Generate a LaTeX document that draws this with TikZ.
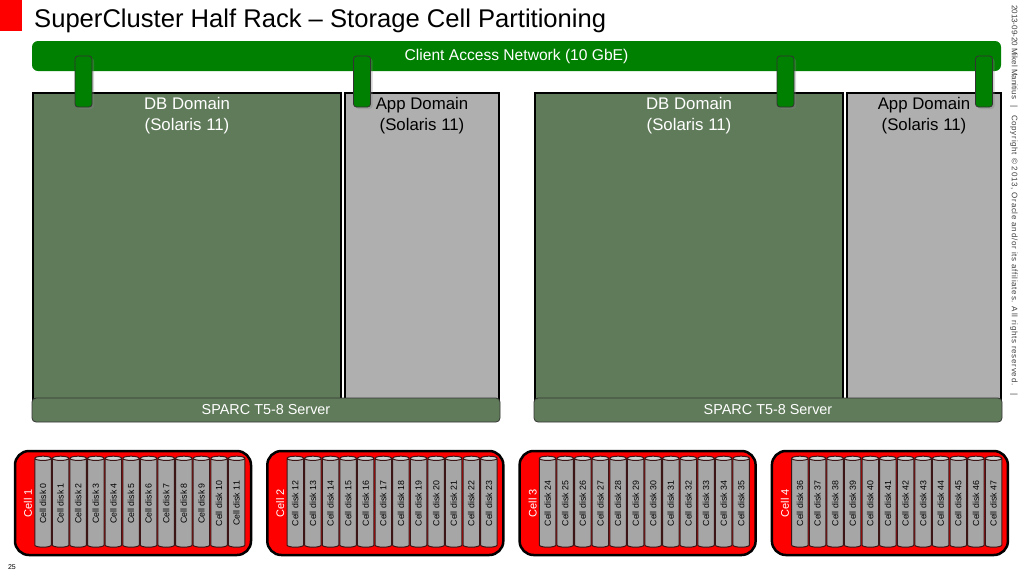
\documentclass[tikz,border=0pt]{standalone}
\usepackage{fontspec}
\setmainfont{Liberation Sans}
\usetikzlibrary{shapes.geometric,shadows}
\definecolor{netgreen}{RGB}{0,128,0}
\definecolor{domgreen}{RGB}{96,123,90}
\definecolor{appgray}{RGB}{175,175,175}
\definecolor{diskgray}{RGB}{166,166,166}
\definecolor{disktop}{RGB}{205,210,210}
\definecolor{diskline}{RGB}{60,22,22}
\definecolor{cellred}{RGB}{255,0,0}

\begin{document}
\begin{tikzpicture}[x=1pt,y=-1pt,
  dombox/.style={draw=black, line width=1.8pt, minimum height=307pt, inner sep=0pt},
  domtext/.style={anchor=north, align=center, inner sep=0pt, font=\fontsize{16.8}{21}\selectfont},
  server/.style={draw=black!80, line width=0.8pt, fill=domgreen, rounded corners=4pt, minimum width=468pt, minimum height=24pt, text=white, font=\fontsize{14.4}{16}\selectfont},
  tab/.style={draw=black!80, line width=0.8pt, fill=netgreen, rounded corners=3pt, minimum width=17pt, minimum height=51pt, inner sep=0pt, drop shadow={shadow xshift=2pt, shadow yshift=-2pt, opacity=0.35}},
  cellbox/.style={draw=black, line width=2.5pt, fill=cellred, rounded corners=14pt, minimum width=236pt, minimum height=104pt, inner sep=0pt},
  disk/.style={cylinder, rotate=90, draw=diskline, line width=1pt, cylinder uses custom fill, cylinder body fill=diskgray, cylinder end fill=disktop, minimum width=16.5pt, minimum height=91pt, aspect=0.5, inner sep=1pt, font=\fontsize{8.8}{10}\selectfont}]
\useasboundingbox (0,0) rectangle (1024,576);

\node[fill=cellred, minimum width=22pt, minimum height=31pt, inner sep=0pt] (mark) at (11,15.5) {};
\node[anchor=base west, inner sep=0pt, font=\fontsize{25.6}{30}\selectfont] (title) at (34,27) {SuperCluster Half Rack – Storage Cell Partitioning};
\node[rotate=-90, anchor=west, inner sep=0pt, text=black!75, font=\fontsize{8}{9}\selectfont] (copy) at (1014,5) {2013-09-20 Mikel Manitius\hspace{6pt}|\hspace{8pt}{\addfontfeatures{LetterSpace=9}Copyright © 2013, Oracle and/or its affiliates. All rights reserved.}\hspace{8pt}|};
\node[font=\fontsize{7}{8}\selectfont] (pgnum) at (12,567) {25};

\node[fill=netgreen, rounded corners=6pt, minimum width=969pt, minimum height=30pt, text=white, font=\fontsize{15.6}{18}\selectfont] (net) at (516.5,56) {Client Access Network (10 GbE)};

\foreach \h/\o in {1/0,2/502}{
  \node[dombox, fill=domgreen, minimum width=308pt] (db\h) at (187+\o,246.5) {};
  \node[dombox, fill=appgray, minimum width=154pt] (app\h) at (422+\o,246.5) {};
  \node[domtext, text=white] (dbtxt\h) at ([yshift=-5pt]db\h.north) {DB Domain\\(Solaris 11)};
  \node[domtext] (apptxt\h) at ([yshift=-5pt]app\h.north) {App Domain\\(Solaris 11)};
  \node[server] (srv\h) at (266+\o,410) {SPARC T5-8 Server};
}

\foreach \t/\x in {1/83.5,2/362,3/785.5,4/984}
  \node[tab] (tab\t) at (\x,81.5) {};

\foreach \c in {1,...,4}{
  \pgfmathsetmacro\cx{15+252.3*(\c-1)}
  \node[cellbox] (cell\c) at (\cx+118,503) {};
  \node[rotate=90, text=white, inner sep=0pt, font=\fontsize{11}{13}\selectfont] (celltxt\c) at (\cx+13,503) {Cell \c};
  \foreach \d in {0,...,11}{
    \pgfmathtruncatemacro\n{12*(\c-1)+\d}
    \node[disk] (disk\n) at (\cx+28+17.6*\d,503.5) {Cell disk \n};
  }
}
\end{tikzpicture}
\end{document}
